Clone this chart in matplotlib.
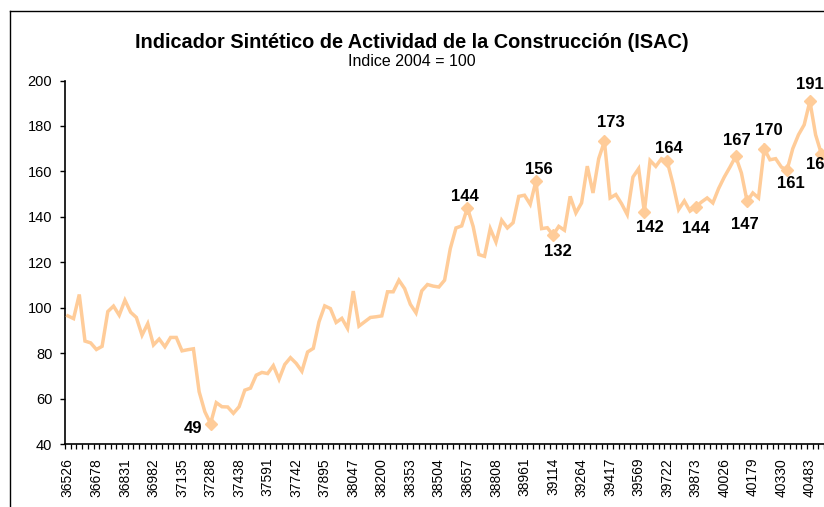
import numpy as np
import matplotlib
matplotlib.use("Agg")
import matplotlib.pyplot as plt
from matplotlib.ticker import FixedLocator
from matplotlib.lines import Line2D

plt.rcParams['font.family'] = ['Liberation Sans', 'DejaVu Sans']

# ---- data -------------------------------------------------------------
isac = [
    96.4, 95.2, 105.8, 85.3, 84.5, 81.6, 83.0, 98.3, 100.7, 96.7,
    103.3, 98.0, 95.7, 87.9, 93.0, 83.6, 86.2, 82.8, 86.9, 86.9,
    81.0, 81.5, 81.9, 63.0, 54.2, 49.0, 58.2, 56.4, 56.3, 53.5,
    56.4, 63.7, 64.6, 70.3, 71.5, 71.0, 74.5, 68.5, 75.0, 78.0,
    75.5, 72.0, 80.5, 82.1, 93.8, 100.8, 99.6, 93.5, 95.3, 90.9,
    107.3, 91.9, 93.8, 95.7, 96.0, 96.4, 107.0, 107.0, 112.1, 108.4,
    101.5, 97.7, 107.4, 110.2, 109.5, 109.1, 112.1, 126.0, 135.1, 136.0,
    144.0, 135.8, 123.4, 122.6, 134.8, 128.9, 138.5, 135.1, 137.4, 149.0,
    149.5, 145.5, 155.7, 134.8, 135.2, 131.9, 135.8, 134.1, 149.0, 141.7,
    146.1, 162.3, 150.5, 165.6, 173.2, 148.3, 149.8, 145.8, 141.0, 157.5,
    161.2, 142.1, 164.8, 162.2, 165.6, 164.4, 154.6, 143.2, 147.0, 142.5,
    144.3, 146.5, 148.3, 146.1, 152.4, 157.5, 161.9, 166.6, 159.3, 146.8,
    150.5, 148.3, 170.0, 165.1, 165.6, 161.9, 160.6, 170.0, 176.1, 180.5,
    190.9, 176.1, 167.8,
]

tick_labels = [
    "36526", "36678", "36831", "36982", "37135", "37288", "37438", "37591",
    "37742", "37895", "38047", "38200", "38353", "38504", "38657", "38808",
    "38961", "39114", "39264", "39417", "39569", "39722", "39873", "40026",
    "40179", "40330", "40483",
]
label_every = 5

# highlighted (labelled) points
marked_idx = [25, 70, 82, 85, 94, 101, 105, 110, 117, 119, 122, 126, 130, 132]
# label offsets in pixels (dx, dy) – styling only
marked_off = [(-18, -5), (-3, 11), (3, 12), (5, -16), (6, 19), (6, -15), (2, 13),
              (0, -21), (1, 16), (-2, -23), (5, 18), (4, -13), (0, 17), (-1, -11)]

# ---- figure -----------------------------------------------------------
W, H = 824, 507
fig = plt.figure(figsize=(W / 100, H / 100), dpi=100)

# outer frame (cropped chart border)
fig.add_artist(Line2D([10 / W, 1.02], [1 - 11 / H, 1 - 11 / H], color='black', lw=1.0,
                      transform=fig.transFigure))
fig.add_artist(Line2D([10 / W, 10 / W], [1 - 11 / H, -0.02], color='black', lw=1.0,
                      transform=fig.transFigure))

px_per_cat = 5.708
left_px = 65
ax_w = px_per_cat * len(isac)
ax = fig.add_axes([left_px / W, 63 / H, ax_w / W, 363.5 / H])

x = np.arange(len(isac))
color = '#FFCC99'
ax.plot(x, isac, color=color, lw=2.5, solid_joinstyle='miter', zorder=3)
mx = [x[i] for i in marked_idx]
my = [isac[i] for i in marked_idx]
ax.plot(mx, my, linestyle='none', marker='D', markersize=6.5, color=color,
        markeredgecolor=color, zorder=4)

for i, (dx, dy) in zip(marked_idx, marked_off):
    ax.annotate(f"{round(isac[i])}", (x[i], isac[i]), xytext=(dx, dy),
                textcoords='offset pixels', ha='center', va='center',
                fontsize=12, fontweight='bold', color='black',
                annotation_clip=False, zorder=5)

ax.set_xlim(-0.5, len(isac) - 0.5)
ax.set_ylim(40, 200)
ax.set_yticks(np.arange(40, 201, 20))

major_pos = list(range(0, len(isac), label_every))[:len(tick_labels)]
ax.xaxis.set_major_locator(FixedLocator(major_pos))
ax.set_xticklabels(tick_labels, rotation=90, fontsize=10)
ax.xaxis.set_minor_locator(FixedLocator(np.arange(-0.5, len(isac), 1.0)))
ax.tick_params(axis='x', which='major', length=0, pad=10)
ax.tick_params(axis='x', which='minor', length=3.5, width=0.9, direction='out')
ax.tick_params(axis='y', which='major', length=3.6, width=1.0, pad=5.5, labelsize=10.5)

for s in ['top', 'right']:
    ax.spines[s].set_visible(False)
for s in ['left', 'bottom']:
    ax.spines[s].set_linewidth(1.2)
    ax.spines[s].set_color('black')
ax.patch.set_alpha(0)

fig.text(412 / W, 1 - 42 / H, "Indicador Sintético de Actividad de la Construcción (ISAC)",
         ha='center', va='center', fontsize=14.3, fontweight='bold')
fig.text(412 / W, 1 - 61 / H, "Indice 2004 = 100", ha='center', va='center', fontsize=11.5)

fig.savefig("out.png", dpi=100)
